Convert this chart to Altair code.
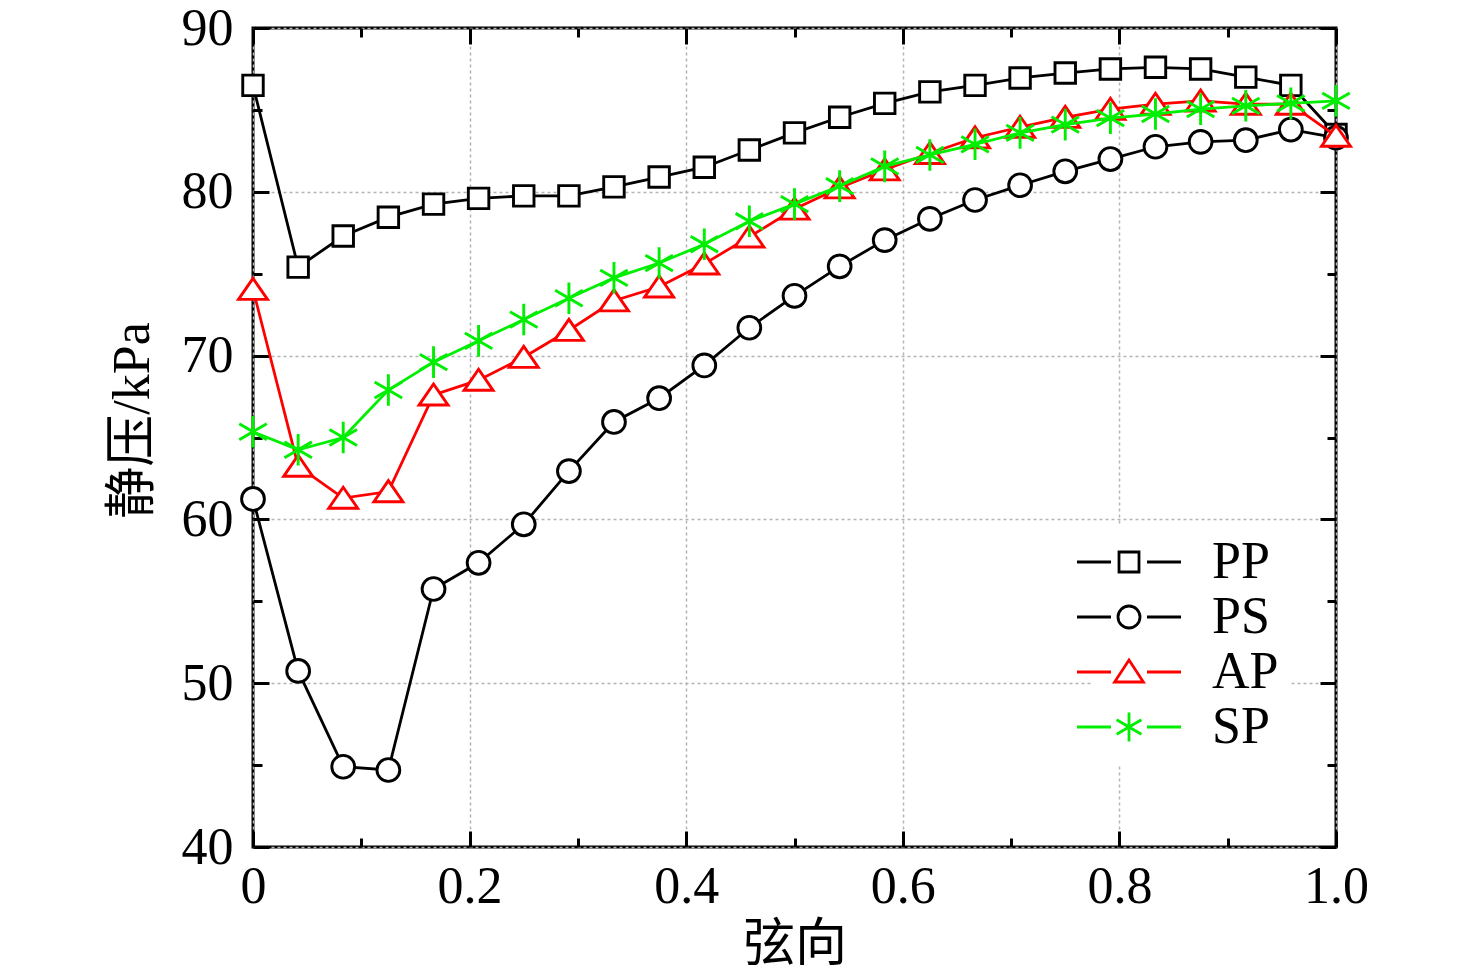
import altair as alt
import pandas as pd
import numpy as np

# ---------------- data ----------------
chord = [0, 0.0417, 0.0833, 0.125, 0.1667, 0.2083, 0.25, 0.2917, 0.3333, 0.375,
         0.4167, 0.4583, 0.5, 0.5417, 0.5833, 0.625, 0.6667, 0.7083, 0.75, 0.7917,
         0.8333, 0.875, 0.9167, 0.9583, 1.0]
pp = [86.5, 75.4, 77.3, 78.45, 79.25, 79.6, 79.75, 79.75, 80.3, 80.9, 81.5, 82.55,
      83.6, 84.55, 85.4, 86.1, 86.5, 86.95, 87.25, 87.5, 87.6, 87.5, 87.0, 86.5, 83.5]
ps = [61.25, 50.75, 44.9, 44.7, 55.75, 57.35, 59.7, 62.95, 65.95, 67.4, 69.4, 71.7,
      73.65, 75.45, 77.05, 78.35, 79.5, 80.4, 81.25, 82.0, 82.75, 83.05, 83.15, 83.8, 83.3]
ap = [74.05, 63.25, 61.3, 61.7, 67.6, 68.5, 69.9, 71.55, 73.35, 74.2, 75.6, 77.25,
      78.95, 80.25, 81.35, 82.35, 83.3, 83.95, 84.55, 85.05, 85.35, 85.55, 85.35, 85.35, 83.4]
sp = [65.35, 64.25, 65.0, 67.9, 69.6, 70.9, 72.2, 73.5, 74.75, 75.65, 76.8, 78.2,
      79.25, 80.35, 81.55, 82.25, 82.9, 83.6, 84.1, 84.5, 84.75, 85.05, 85.25, 85.4, 85.55]

series_names = ["PP", "PS", "AP", "SP"]
series_vals = [pp, ps, ap, sp]
series_colors = ["#000000", "#000000", "#ff0000", "#00ee00"]

x_major = [0, 0.2, 0.4, 0.6, 0.8, 1.0]
x_minor = [0.1, 0.3, 0.5, 0.7, 0.9]
y_major = [40, 50, 60, 70, 80, 90]
y_minor = [45, 55, 65, 75, 85]

# ---------------- styles ----------------
SERIF = "Liberation Serif"
CJK = "Liberation Serif, Noto Sans CJK SC"
W, H = 1083, 819
FS = 52

# marker shapes for the plot
tri_path = "M0,-0.75L1,0.7L-1,0.7Z"
star_path = "M0,-1L0,1M-0.87,-0.5L0.87,0.5M-0.87,0.5L0.87,-0.5"
marker_shapes = ["square", "circle", tri_path, star_path]
marker_sizes = [420, 520, 841, 1000]

# legend symbols: line - marker - line
seg = "M-2.6,0L-0.9,0M0.9,0L2.6,0"
legend_paths = [
    seg + "M-0.5,-0.5L0.5,-0.5L0.5,0.5L-0.5,0.5Z",
    seg + "M0.55,0A0.55,0.55,0,1,1,-0.55,0A0.55,0.55,0,1,1,0.55,0Z",
    seg + "M0,-0.6L0.72,0.5L-0.72,0.5Z",
    seg + "M0,-0.72L0,0.72M-0.62,-0.36L0.62,0.36M-0.62,0.36L0.62,-0.36",
]

xscale = alt.Scale(domain=[0, 1], nice=False, zero=False)
yscale = alt.Scale(domain=[40, 90], nice=False, zero=False)

layers = []
for name, vals, col, shp, sz in zip(series_names, series_vals, series_colors,
                                     marker_shapes, marker_sizes):
    df = pd.DataFrame({"chord": chord, "p": vals})
    base = alt.Chart(df).encode(
        x=alt.X("chord:Q", scale=xscale, axis=None),
        y=alt.Y("p:Q", scale=yscale, axis=None),
    )
    layers.append(base.mark_line(color=col, strokeWidth=2.8))
    layers.append(base.mark_point(shape=shp, size=sz, filled=True, fill="white",
                                  stroke=col, strokeWidth=2.9, opacity=1))

# empty frame used to carry axes and the legend (nulls => no marks drawn)
empty = pd.DataFrame({"chord": [np.nan] * 4, "p": [np.nan] * 4, "series": series_names})


def axis_layer(xaxis, yaxis):
    return alt.Chart(empty).mark_point().encode(
        x=alt.X("chord:Q", scale=xscale, axis=xaxis),
        y=alt.Y("p:Q", scale=yscale, axis=yaxis),
    )


grid_kw = dict(grid=True, gridColor="#b4b4b4", gridDash=[3, 3], gridWidth=1.5)

label_layer = axis_layer(
    alt.Axis(orient="bottom", values=x_major, ticks=False, domain=False,
             labelFlush=False,
             labelExpr="datum.value == 0 ? '0' : format(datum.value, '.1f')",
             labelFont=SERIF, labelFontSize=FS, labelColor="black", labelPadding=14,
             title="弦向", titleFont=CJK, titleFontSize=FS, titleFontWeight="normal",
             titleColor="black", titlePadding=7, **grid_kw),
    alt.Axis(orient="left", values=y_major, ticks=False, domain=False,
             labelFlush=False,
             labelFont=SERIF, labelFontSize=FS, labelColor="black", labelPadding=20,
             title="静压/kPa", titleFont=CJK, titleFontSize=FS, titleFontWeight="normal",
             titleColor="black", titlePadding=22, titleY=392, **grid_kw),
)


def tick_axis(orient, values, size, offset):
    return alt.Axis(orient=orient, values=values, ticks=True, tickSize=size,
                    tickWidth=3, tickColor="black", labels=False, domain=False,
                    grid=False, title=None, offset=offset)


maj, mnr = 16, 9
tick_layers = [
    axis_layer(tick_axis("top", x_major, maj, -H), tick_axis("right", y_major, maj, -W)),
    axis_layer(tick_axis("bottom", x_major, maj, -H), tick_axis("left", y_major, maj, -W)),
    axis_layer(tick_axis("top", x_minor, mnr, -H), tick_axis("right", y_minor, mnr, -W)),
    axis_layer(tick_axis("bottom", x_minor, mnr, -H), tick_axis("left", y_minor, mnr, -W)),
]

legend_layer = alt.Chart(empty).mark_point(filled=False, strokeWidth=2.8,
                                           opacity=1).encode(
    x=alt.X("chord:Q", scale=xscale, axis=None),
    y=alt.Y("p:Q", scale=yscale, axis=None),
    color=alt.Color("series:N",
                    scale=alt.Scale(domain=series_names, range=series_colors),
                    legend=alt.Legend(orient="none", legendX=840, legendY=498,
                                      title=None, symbolSize=1600,
                                      symbolStrokeWidth=2.8, symbolOpacity=1,
                                      labelFont=SERIF, labelFontSize=FS,
                                      labelColor="black", labelOffset=57,
                                      rowPadding=3, padding=10,
                                      fillColor="white", strokeColor="white")),
    shape=alt.Shape("series:N",
                    scale=alt.Scale(domain=series_names, range=legend_paths)),
)

chart = alt.layer(label_layer, *tick_layers, *layers, legend_layer).resolve_axis(
    x="independent", y="independent"
).properties(
    width=W, height=H,
    autosize=alt.AutoSizeParams(type="none"),
    padding={"left": 245, "top": 20, "right": 132, "bottom": 124},
).configure_view(stroke="black", strokeWidth=3)

chart.save("out.html", embed_options={"renderer": "svg", "actions": False})
